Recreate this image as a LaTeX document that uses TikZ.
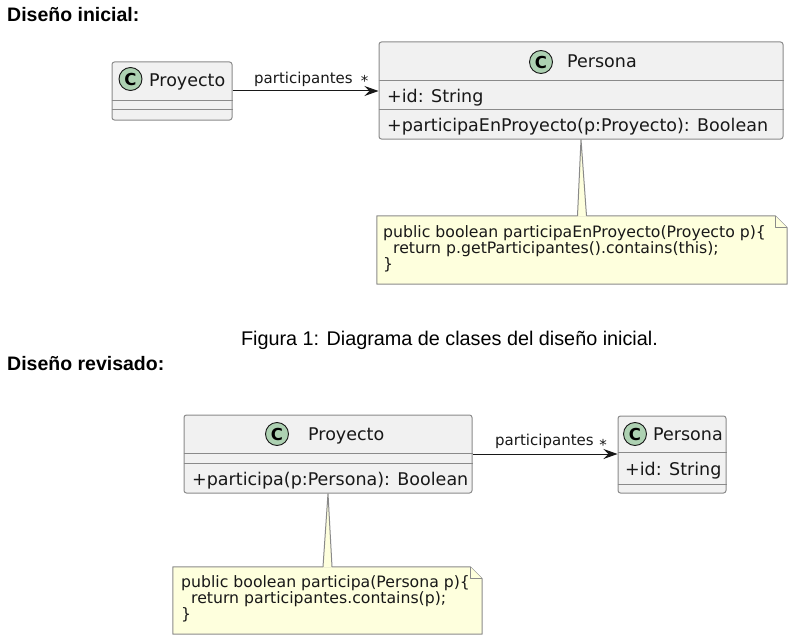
\documentclass[tikz,border=0pt]{standalone}
\usepackage{fontspec}
\setmainfont{DejaVu Sans}
\newfontfamily\arialfont{Liberation Sans}
\usetikzlibrary{arrows.meta}
\definecolor{classfill}{HTML}{F1F1F1}
\definecolor{classline}{HTML}{8A8A8A}
\definecolor{iconfill}{HTML}{ADD1B2}
\definecolor{notefill}{HTML}{FEFFDD}
\definecolor{darkline}{HTML}{181818}
\tikzset{
        classbox/.style={draw=classline, fill=classfill, rounded corners=2.5pt, line width=1pt, inner sep=0pt},
        sepline/.style={draw=classline, line width=1pt},
        cicon/.style={circle, draw=darkline, fill=iconfill, line width=0.9pt, minimum size=23pt, inner sep=0pt, font=\bfseries\fontsize{16.5}{17}\selectfont},
        member/.style={anchor=base west, inner sep=0pt, text=darkline, font=\fontsize{17.5}{20}\selectfont},
        rolelbl/.style={anchor=base west, inner sep=0pt, text=darkline, font=\fontsize{15}{18}\selectfont},
        mult/.style={inner sep=0pt, text=darkline, font=\fontsize{15}{18}\selectfont},
        notebox/.style={draw=classline, fill=notefill, line width=1pt, line join=round},
        notetext/.style={anchor=north west, inner sep=0pt, align=left, text=darkline, font=\fontsize{15.7}{16}\selectfont},
        assoc/.style={draw=darkline, line width=1pt, -{Stealth[length=14pt, width=10pt, inset=5pt]}},
        heading/.style={anchor=base west, inner sep=0pt, font=\arialfont\bfseries\fontsize{19.5}{22}\selectfont},
        captiontext/.style={anchor=base, inner sep=0pt, font=\arialfont\fontsize{19.8}{22}\selectfont}
}
\begin{document}
\begin{tikzpicture}[x=1pt, y=-1pt]
        \useasboundingbox (0,0) rectangle (793,642);

        \node[heading] (titulo1) at (7,22) {Diseño inicial:};

        \node[classbox, minimum width=120pt, minimum height=58pt] (proy1) at (172,91) {};
        \draw[sepline] ([yshift=-38.7pt]proy1.north west) -- ([yshift=-38.7pt]proy1.north east);
        \draw[sepline] ([yshift=-48pt]proy1.north west) -- ([yshift=-48pt]proy1.north east);
        \node[cicon] (proy1c) at (130.5,79) {C};
        \node[member] (proy1n) at (149,86) {Proyecto};

        \node[classbox, minimum width=404pt, minimum height=97pt] (pers1) at (581,90.5) {};
        \draw[sepline] ([yshift=-39pt]pers1.north west) -- ([yshift=-39pt]pers1.north east);
        \draw[sepline] ([yshift=-68pt]pers1.north west) -- ([yshift=-68pt]pers1.north east);
        \node[cicon] (pers1c) at (541,62) {C};
        \node[member] (pers1n) at (567,67) {Persona};
        \node[member] (pers1a) at (387,102.5) {+id: String};
        \node[member] (pers1m) at (387,131.5) {+participaEnProyecto(p:Proyecto): Boolean};

        \draw[assoc] (proy1.east) -- (proy1.east -| pers1.west);
        \node[rolelbl] (rol1) at (254,83.3) {participantes};
        \node[mult] (mult1) at (364.5,81.3) {*};

        \node[minimum width=410pt, minimum height=68pt, inner sep=0pt] (nota1) at (582,250) {};

        \node[captiontext] (figura1) at (449.5,345) {Figura 1: Diagrama de clases del diseño inicial.};

        \node[heading] (titulo2) at (7,370) {Diseño revisado:};

        \node[classbox, minimum width=288pt, minimum height=78pt] (proy2) at (328,454) {};
        \draw[sepline] ([yshift=-39pt]proy2.north west) -- ([yshift=-39pt]proy2.north east);
        \draw[sepline] ([yshift=-49pt]proy2.north west) -- ([yshift=-49pt]proy2.north east);
        \node[cicon] (proy2c) at (277,434) {C};
        \node[member] (proy2n) at (308,440.7) {Proyecto};
        \node[member] (proy2m) at (192,485) {+participa(p:Persona): Boolean};

        \node[classbox, minimum width=108pt, minimum height=77pt] (pers2) at (672,454.5) {};
        \draw[sepline] ([yshift=-37pt]pers2.north west) -- ([yshift=-37pt]pers2.north east);
        \draw[sepline] ([yshift=-69pt]pers2.north west) -- ([yshift=-69pt]pers2.north east);
        \node[cicon] (pers2c) at (635,434) {C};
        \node[member] (pers2n) at (653,440) {Persona};
        \node[member] (pers2a) at (625,475) {+id: String};

        \draw[assoc] (proy2.east) -- (proy2.east -| pers2.west);
        \node[rolelbl] (rol2) at (495,445) {participantes};
        \node[mult] (mult2) at (603,445) {*};

        \node[minimum width=309pt, minimum height=67pt, inner sep=0pt] (nota2) at (327.5,600.5) {};

        \foreach \n in {nota1,nota2} {
                \draw[notebox] (\n.south west) -- (\n.north west) -- ([xshift=-12pt]\n.north east)
                        -- ([yshift=-12pt]\n.north east) -- (\n.south east) -- cycle;
                \draw[notebox] ([xshift=-12pt]\n.north east) -- ([xshift=-12pt,yshift=-12pt]\n.north east)
                        -- ([yshift=-12pt]\n.north east);
        }
        \foreach \c/\n in {pers1/nota1,proy2/nota2} {
                \fill[notefill] (\c.south) -- ([xshift=-4.5pt,yshift=-0.7pt]\n.north)
                        -- ([xshift=4.5pt,yshift=-0.7pt]\n.north) -- cycle;
                \draw[classline, line width=1pt] ([xshift=-4.5pt]\n.north) -- (\c.south) -- ([xshift=4.5pt]\n.north);
        }

        \node[notetext] (nota1t) at (383,225) {public boolean participaEnProyecto(Proyecto p)\{\\\ \ return p.getParticipantes().contains(this);\\\}};
        \node[notetext] (nota2t) at (181,575) {public boolean participa(Persona p)\{\\\ \ return participantes.contains(p);\\\}};
\end{tikzpicture}
\end{document}
